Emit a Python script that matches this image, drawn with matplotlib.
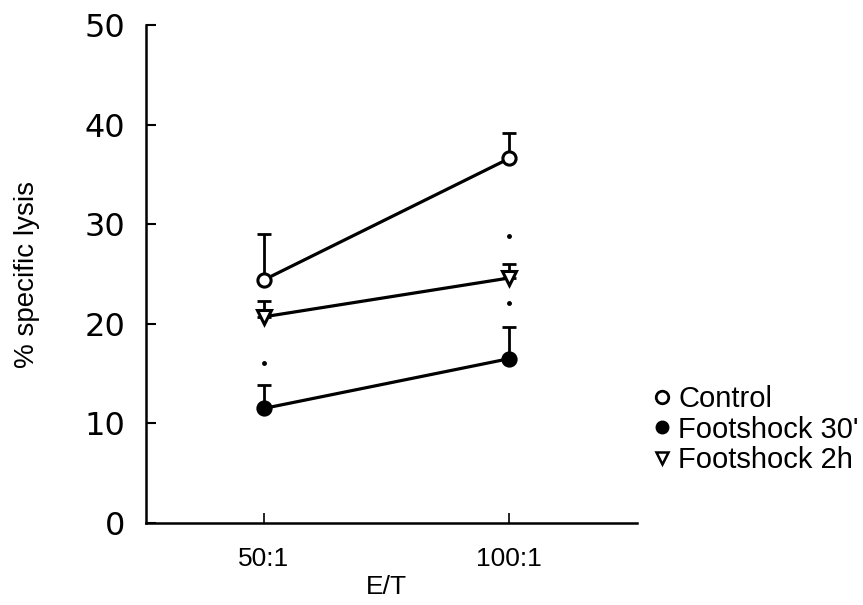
import numpy as np
import matplotlib
matplotlib.use("Agg")
import matplotlib.pyplot as plt

# E/T ratios and group means (% specific lysis), upper error bars only
ratios = ['50:1', '100:1']
control = [24.4, 36.6]
control_err = [4.6, 2.6]
shock_30 = [11.5, 16.5]
shock_30_err = [2.4, 3.2]
shock_2h = [20.7, 24.6]
shock_2h_err = [1.6, 1.4]

# significance marks (x index, y value)
sig_x = [0, 1, 1]
sig_y = [16.1, 28.8, 22.1]

plt.rcParams['font.family'] = ['Liberation Sans', 'DejaVu Sans']

fig = plt.figure(figsize=(8.63, 6.05), dpi=100)
ax = fig.add_axes([0.169, 0.1355, 0.569, 0.8232])

x = np.arange(1, len(ratios) + 1)

series = [
    (control, control_err, 'o', 'white', 'Control'),
    (shock_30, shock_30_err, 'o', 'black', "Footshock 30'"),
    (shock_2h, shock_2h_err, 'v', 'white', 'Footshock 2h'),
]

handles = []
for vals, err, mk, fc, lab in series:
    ax.errorbar(x, vals, yerr=[np.zeros(len(err)), err], fmt='none',
                ecolor='black', elinewidth=2.0, capsize=5, capthick=2.0, zorder=2)
    line, = ax.plot(x, vals, color='black', linewidth=2.3, marker=mk,
                    markersize=9.5 if mk == 'o' else 10, markerfacecolor=fc,
                    markeredgecolor='black', markeredgewidth=2.2, zorder=3,
                    label=lab)
    handles.append(line)

ax.plot([x[i] for i in sig_x], sig_y, linestyle='none', marker='o',
        markersize=2.5, color='black')

ax.set_xlim(0.52, 2.52)
ax.set_ylim(0, 50)
ax.set_yticks([0, 10, 20, 30, 40, 50])
ax.set_yticklabels([0, 10, 20, 30, 40, 50], family='DejaVu Sans', fontsize=23)
ax.set_xticks(x)
ax.set_xticklabels(ratios, fontsize=19, fontweight='medium')
ax.tick_params(axis='y', direction='in', length=7, width=1.5, pad=15)
ax.tick_params(axis='x', direction='in', length=7, width=1.2, pad=17)
for s in ['top', 'right']:
    ax.spines[s].set_visible(False)
for s in ['left', 'bottom']:
    ax.spines[s].set_linewidth(1.8)

ax.set_ylabel('% specific lysis', fontsize=20)
ax.yaxis.set_label_coords(-0.215, 0.5)
ax.set_xlabel('E/T', fontsize=19)
ax.xaxis.set_label_coords(0.49, -0.104)

leg_handles = [
    plt.Line2D([], [], linestyle='none', marker='o', markersize=9,
               markerfacecolor='white', markeredgecolor='black', markeredgewidth=2),
    plt.Line2D([], [], linestyle='none', marker='o', markersize=9,
               markerfacecolor='black', markeredgecolor='black'),
    plt.Line2D([], [], linestyle='none', marker='v', markersize=9,
               markerfacecolor='white', markeredgecolor='black', markeredgewidth=1.8),
]
fig.legend(leg_handles, [h.get_label() for h in handles],
           loc='center left', bbox_to_anchor=(0.757, 0.29), frameon=False,
           fontsize=21, handlelength=0.6, handletextpad=0.25, labelspacing=0.08,
           borderaxespad=0, borderpad=0)

fig.savefig('out.png', dpi=100)
